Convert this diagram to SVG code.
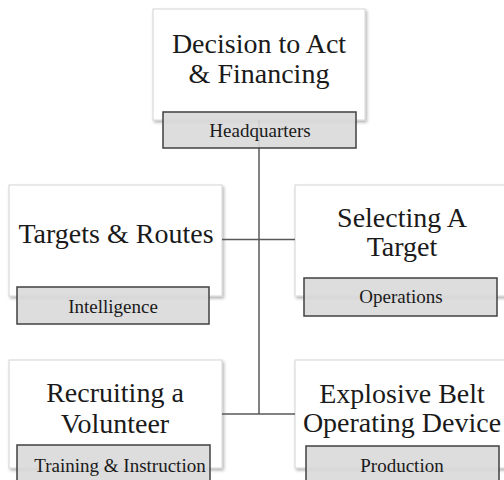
<svg xmlns="http://www.w3.org/2000/svg" width="504" height="480" viewBox="0 0 504 480">
  <defs>
    <filter id="sh" x="-10%" y="-10%" width="120%" height="120%">
      <feDropShadow dx="1.5" dy="2" stdDeviation="1.5" flood-color="#000" flood-opacity="0.3"/>
    </filter>
  </defs>
  <style>
    .box { fill: #ffffff; stroke: #d4d4d4; stroke-width: 1; filter: url(#sh); }
    .lab { fill: #d9d9d9; fill-opacity: 0.9; stroke: #404040; stroke-width: 1.5; }
    text { font-family: 'Liberation Serif', Tinos, 'Times New Roman', Times, serif; fill: #1a1a1a; text-anchor: middle; }
    .t { font-size: 28px; }
    .s { font-size: 19px; }
    .c { stroke: #595959; stroke-width: 1.5; fill: none; }
  </style>
  <rect width="504" height="480" fill="#ffffff"/>

  <g id="n-top-box">
    <rect class="box" x="153" y="9" width="212" height="111"/>
    <text class="t" x="259" y="53" font-family="Liberation Serif">Decision to Act</text>
    <text class="t" x="259" y="83" font-family="Liberation Serif">&amp; Financing</text>
  </g>
  <g id="n-left-mid-box">
    <rect class="box" x="9" y="185" width="213" height="111"/>
    <text class="t" x="116" y="243" font-family="Liberation Serif">Targets &amp; Routes</text>
  </g>
  <g id="n-right-mid-box">
    <rect class="box" x="295" y="185" width="213" height="111"/>
    <text class="t" x="402" y="227" font-family="Liberation Serif">Selecting A</text>
    <text class="t" x="402" y="256" font-family="Liberation Serif">Target</text>
  </g>
  <g id="n-left-bot-box">
    <rect class="box" x="9" y="360" width="213" height="108"/>
    <text class="t" x="115" y="402" font-family="Liberation Serif">Recruiting a</text>
    <text class="t" x="115" y="433" font-family="Liberation Serif">Volunteer</text>
  </g>
  <g id="n-right-bot-box">
    <rect class="box" x="295" y="360" width="213" height="108"/>
    <text class="t" x="402" y="403" font-family="Liberation Serif">Explosive Belt</text>
    <text class="t" x="402" y="432" font-family="Liberation Serif">Operating Device</text>
  </g>

  <g id="connectors">
    <line class="c" x1="259" y1="120" x2="259" y2="414"/>
    <line class="c" x1="222" y1="239.5" x2="295" y2="239.5"/>
    <line class="c" x1="222" y1="414" x2="295" y2="414"/>
  </g>

  <g id="n-headquarters">
    <rect class="lab" x="163" y="112" width="193" height="36"/>
    <text class="s" x="260" y="137" font-family="Liberation Serif">Headquarters</text>
  </g>
  <g id="n-intelligence">
    <rect class="lab" x="17" y="287" width="192" height="37"/>
    <text class="s" x="113" y="313" font-family="Liberation Serif">Intelligence</text>
  </g>
  <g id="n-operations">
    <rect class="lab" x="304" y="278" width="193" height="38"/>
    <text class="s" x="401" y="303" font-family="Liberation Serif">Operations</text>
  </g>
  <g id="n-training">
    <rect class="lab" x="17" y="445" width="193" height="40"/>
    <text class="s" x="120" y="472" font-family="Liberation Serif">Training &amp; Instruction</text>
  </g>
  <g id="n-production">
    <rect class="lab" x="306" y="446" width="193" height="40"/>
    <text class="s" x="402" y="472" font-family="Liberation Serif">Production</text>
  </g>
</svg>
